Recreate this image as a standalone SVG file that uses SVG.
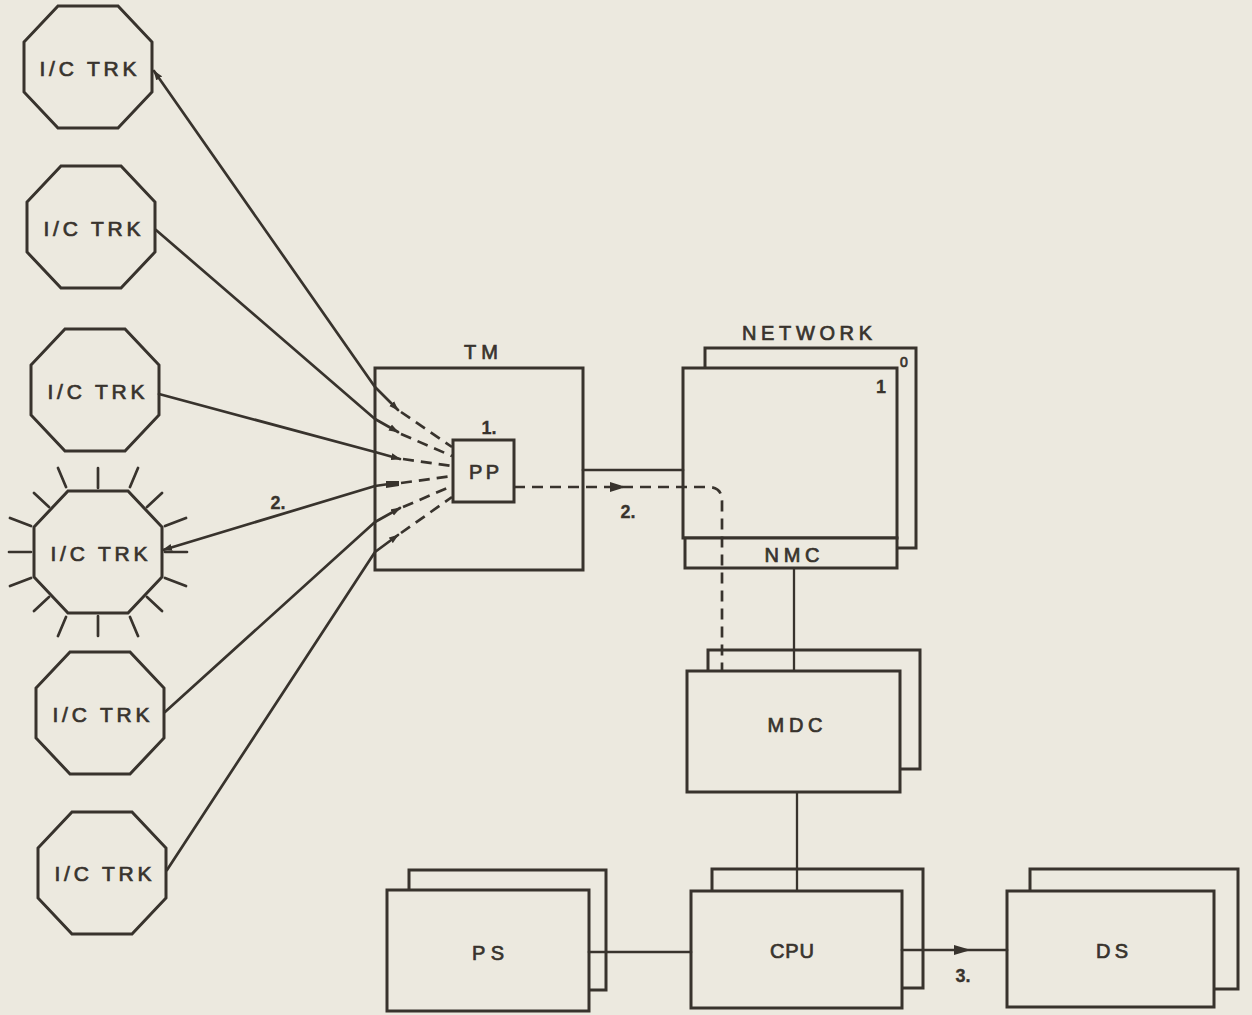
<svg xmlns="http://www.w3.org/2000/svg" xmlns:xlink="http://www.w3.org/1999/xlink" width="1252" height="1015" viewBox="0 0 1252 1015">
  <style>
    .ink { fill: none; stroke: #38332d; stroke-width: 2.7; stroke-linejoin: round; stroke-linecap: round; }
    .box { fill: #ece9df; stroke: #38332d; stroke-width: 3; stroke-linejoin: miter; }
    .thin { fill: none; stroke: #38332d; stroke-width: 2.3; }
    .dash { fill: none; stroke: #38332d; stroke-width: 2.7; stroke-dasharray: 11 7; }
    .lbl { font-family: "Liberation Sans", "DejaVu Sans", Arial, sans-serif; fill: #38332d; stroke: #38332d; stroke-width: 0.7; text-anchor: middle; }
    .trk { font-size: 21px; }
    .mid { font-size: 20px; }
    .num { font-size: 18px; font-weight: bold; stroke-width: 0.3; }
    .head { fill: #38332d; stroke: none; }
  </style>
  <defs>
    <!-- trunk octagon, centred on the origin -->
    <polygon id="oct" class="box" points="-30,-61 30,-61 64,-25 64,25 30,61 -30,61 -64,25 -64,-25"/>
    <!-- small arrowheads used at line ends -->
    <marker id="tip" viewBox="0 0 10 8" refX="9" refY="4" markerWidth="10" markerHeight="8" markerUnits="userSpaceOnUse" orient="auto">
      <path d="M0,0.5 L10,4 L0,7.5 Z" fill="#38332d"/>
    </marker>
    <marker id="tipStart" viewBox="0 0 10 8" refX="1" refY="4" markerWidth="10" markerHeight="8" markerUnits="userSpaceOnUse" orient="auto">
      <path d="M10,0.5 L0,4 L10,7.5 Z" fill="#38332d"/>
    </marker>
  </defs>

  <rect x="0" y="0" width="1252" height="1015" fill="#ece9df"/>

  <!-- incoming trunks -->
  <g id="trk1">
    <use xlink:href="#oct" href="#oct" x="88" y="67"/>
    <text class="lbl trk" x="88" y="76" textLength="97" lengthAdjust="spacing">I/C TRK</text>
  </g>
  <g id="trk2">
    <use xlink:href="#oct" href="#oct" x="91" y="227"/>
    <text class="lbl trk" x="92" y="236" textLength="97" lengthAdjust="spacing">I/C TRK</text>
  </g>
  <g id="trk3">
    <use xlink:href="#oct" href="#oct" x="95" y="390"/>
    <text class="lbl trk" x="96" y="399" textLength="97" lengthAdjust="spacing">I/C TRK</text>
  </g>
  <g id="trk4">
    <use xlink:href="#oct" href="#oct" x="98" y="552"/>
    <!-- rays around the ringing trunk -->
    <path class="ink" transform="translate(98,552)" d="M0,-64 L0,-84 M0,64 L0,84 M-67,0 L-89,0 M67,0 L89,0
      M-49,-45 L-64,-59 M49,-45 L64,-59 M-49,45 L-64,59 M49,45 L64,59
      M-32,-65 L-40,-84 M32,-65 L40,-84 M-32,65 L-40,84 M32,65 L40,84
      M-67,-26 L-88,-34 M67,-26 L88,-34 M-67,26 L-88,34 M67,26 L88,34"/>
    <text class="lbl trk" x="99" y="561" textLength="97" lengthAdjust="spacing">I/C TRK</text>
  </g>
  <g id="trk5">
    <use xlink:href="#oct" href="#oct" x="100" y="713"/>
    <text class="lbl trk" x="101" y="722" textLength="97" lengthAdjust="spacing">I/C TRK</text>
  </g>
  <g id="trk6">
    <use xlink:href="#oct" href="#oct" x="102" y="873"/>
    <text class="lbl trk" x="103" y="881" textLength="97" lengthAdjust="spacing">I/C TRK</text>
  </g>

  <!-- trunk module with peripheral processor -->
  <g id="tm">
    <text class="lbl mid" x="481" y="359" textLength="34" lengthAdjust="spacing">TM</text>
    <rect class="box" x="375" y="368" width="208" height="202"/>
  </g>
  <g id="pp">
    <text class="lbl num" x="489" y="434">1.</text>
    <rect class="box" x="453" y="440" width="61" height="62"/>
    <text class="lbl mid" x="484" y="479" textLength="30" lengthAdjust="spacing">PP</text>
  </g>

  <!-- network planes 0 and 1 with NMC -->
  <g id="network">
    <text class="lbl mid" x="807" y="340" textLength="130" lengthAdjust="spacing">NETWORK</text>
    <rect class="box" x="705" y="348" width="211" height="200"/>
    <text class="lbl" x="904" y="367" font-size="14">0</text>
    <rect class="box" x="683" y="368" width="214" height="170"/>
    <text class="lbl num" x="881" y="393" font-size="15">1</text>
  </g>
  <g id="nmc">
    <rect class="box" x="685" y="538" width="212" height="30"/>
    <text class="lbl mid" x="792" y="562" textLength="55" lengthAdjust="spacing">NMC</text>
  </g>

  <g id="mdc">
    <rect class="box" x="708" y="650" width="212" height="119"/>
    <rect class="box" x="687" y="671" width="213" height="121"/>
    <text class="lbl mid" x="795" y="732" textLength="55" lengthAdjust="spacing">MDC</text>
  </g>

  <g id="ps">
    <rect class="box" x="409" y="870" width="197" height="120"/>
    <rect class="box" x="387" y="890" width="202" height="121"/>
    <text class="lbl mid" x="488" y="960" textLength="32" lengthAdjust="spacing">PS</text>
  </g>

  <g id="cpu">
    <rect class="box" x="712" y="869" width="211" height="119"/>
    <rect class="box" x="691" y="891" width="211" height="117"/>
    <text class="lbl mid" x="792" y="958" textLength="44" lengthAdjust="spacing">CPU</text>
  </g>

  <g id="ds">
    <rect class="box" x="1030" y="869" width="208" height="120"/>
    <rect class="box" x="1007" y="891" width="207" height="116"/>
    <text class="lbl mid" x="1112" y="958" textLength="32" lengthAdjust="spacing">DS</text>
  </g>

  <!-- connectors -->
  <g id="connectors">
    <!-- trunk lines into TM -->
    <polyline class="ink" marker-start="url(#tipStart)" marker-end="url(#tip)" points="154,71 375,387 398,410"/>
    <polyline class="ink" marker-end="url(#tip)" points="156,230 375,419 398,432"/>
    <polyline class="ink" marker-end="url(#tip)" points="159,394 375,452 400,459"/>
    <polyline class="ink" marker-start="url(#tipStart)" stroke-width="3" points="163,550 375,486 396,483"/>
    <path class="head" d="M386,481 L399,481 L399,486 L386,488 Z"/>
    <polyline class="ink" marker-end="url(#tip)" points="165,712 375,522 400,508"/>
    <polyline class="ink" marker-end="url(#tip)" points="167,870 375,552 398,535"/>

    <!-- paths inside TM towards PP -->
    <line class="dash" x1="401" y1="412" x2="452" y2="447"/>
    <line class="dash" x1="401" y1="434" x2="452" y2="456"/>
    <line class="dash" x1="403" y1="459" x2="452" y2="466"/>
    <line class="dash" x1="401" y1="483" x2="452" y2="476"/>
    <line class="dash" x1="403" y1="507" x2="452" y2="486"/>
    <line class="dash" x1="401" y1="533" x2="452" y2="497"/>

    <!-- TM to network -->
    <line class="ink" x1="583" y1="470" x2="683" y2="470"/>
    <path class="dash" d="M514,487 L708,487 Q722,487 722,501 L722,671"/>
    <path class="head" d="M610,482 L626,487 L610,492 Z"/>
    <text class="lbl num" x="628" y="518">2.</text>
    <text class="lbl num" x="278" y="509">2.</text>

    <!-- control chain -->
    <line class="thin" x1="794" y1="568" x2="794" y2="671"/>
    <line class="thin" x1="797" y1="792" x2="797" y2="891"/>
    <line class="ink" x1="589" y1="952" x2="691" y2="952"/>
    <line class="ink" x1="902" y1="950" x2="1007" y2="950"/>
    <path class="head" d="M954,945 L971,950 L954,955 Z"/>
    <text class="lbl num" x="963" y="982">3.</text>
  </g>
</svg>
